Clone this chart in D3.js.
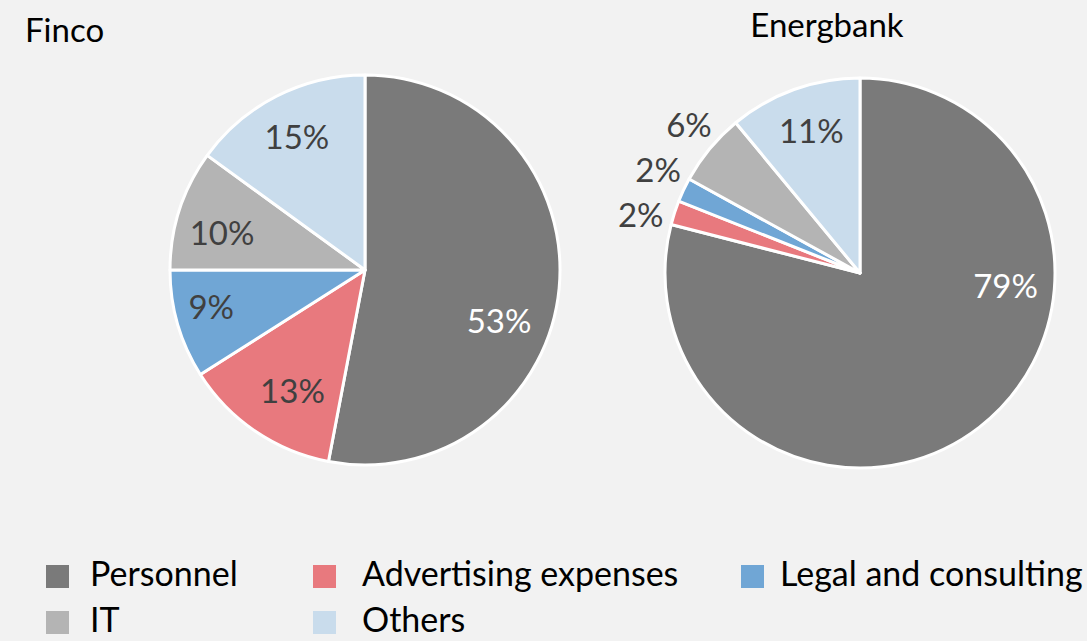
<!DOCTYPE html>
<html>
<head>
<meta charset="utf-8">
<script src="https://cdn.jsdelivr.net/npm/d3@7"></script>
<style>
  html, body { margin: 0; padding: 0; background: #f2f2f2; }
  svg { display: block; font-family: Lato, "Open Sans", sans-serif; }
</style>
</head>
<body>
<svg id="chart" width="1087" height="641"></svg>
<script>
// Cost structure by category, two banks
const categories = ["Personnel", "Advertising expenses", "Legal and consulting", "IT", "Others"];
const fincoValues = [53, 13, 9, 10, 15];
const energbankValues = [79, 2, 2, 6, 11];
const colors = ["#7a7a7a", "#e8797e", "#70a6d5", "#b4b4b4", "#c9dcec"];

const svg = d3.select("#chart");
const R = 195;
const FONT = 33;

const color = d3.scaleOrdinal().domain(categories).range(colors);
const pie = d3.pie().sort(null).value(d => d.value);
const arc = d3.arc().innerRadius(0).outerRadius(R);

function rad(deg) { return deg * Math.PI / 180; }

// Draws one pie; labels sit on the slice mid-angle, small slices get outside labels.
function drawPie(cx, cy, title, titleX, titleY, titleAnchor, values, opts) {
  const data = categories.map((c, i) => ({ cat: c, value: values[i] }));
  const g = svg.append("g").attr("transform", `translate(${cx},${cy})`);
  const arcs = pie(data);

  g.selectAll("path").data(arcs).join("path")
    .attr("d", arc)
    .attr("fill", d => color(d.data.cat))
    .attr("stroke", "#ffffff")
    .attr("stroke-width", 3)
    .attr("stroke-linejoin", "round");

  g.selectAll("text.lbl").data(arcs).join("text")
    .attr("class", "lbl")
    .attr("text-anchor", "middle")
    .attr("dominant-baseline", "central")
    .attr("font-size", FONT)
    .attr("fill", (d, i) => i === 0 ? "#ffffff" : "#404040")
    .attr("transform", (d, i) => {
      const mid = (d.startAngle + d.endAngle) / 2 + rad(opts.angleShift[i] || 0);
      const r = d.data.value < 8 ? R + 32 : opts.labelR[i];
      return `translate(${r * Math.sin(mid)},${-r * Math.cos(mid)})`;
    })
    .text(d => d.data.value + "%");

  svg.append("text")
    .attr("x", titleX).attr("y", titleY)
    .attr("text-anchor", titleAnchor)
    .attr("font-size", FONT)
    .attr("fill", "#000000")
    .text(title);
}

drawPie(365, 270, "Finco", 25, 42, "start", fincoValues,
  { angleShift: [15, -3, 3, -3, 0], labelR: [143, 140, 158, 148, 150] });
drawPie(860, 273, "Energbank", 827, 37, "middle", energbankValues,
  { angleShift: [-47.5, -3, 2, 1.5, 1], labelR: [146, 0, 0, 0, 151] });

// Legend: two rows, three columns
const legendBoxX = [46, 313, 741];
const legendTextX = [90, 362, 780];
const legendRows = [565, 611];
const legend = svg.append("g");
categories.forEach((c, i) => {
  const col = i % 3, row = Math.floor(i / 3);
  const y = legendRows[row];
  legend.append("rect")
    .attr("x", legendBoxX[col]).attr("y", y).attr("width", 23).attr("height", 23)
    .attr("fill", color(c));
  legend.append("text")
    .attr("x", legendTextX[col]).attr("y", y + 21)
    .attr("font-size", 34)
    .attr("fill", "#000000")
    .text(c);
});
</script>
</body>
</html>
